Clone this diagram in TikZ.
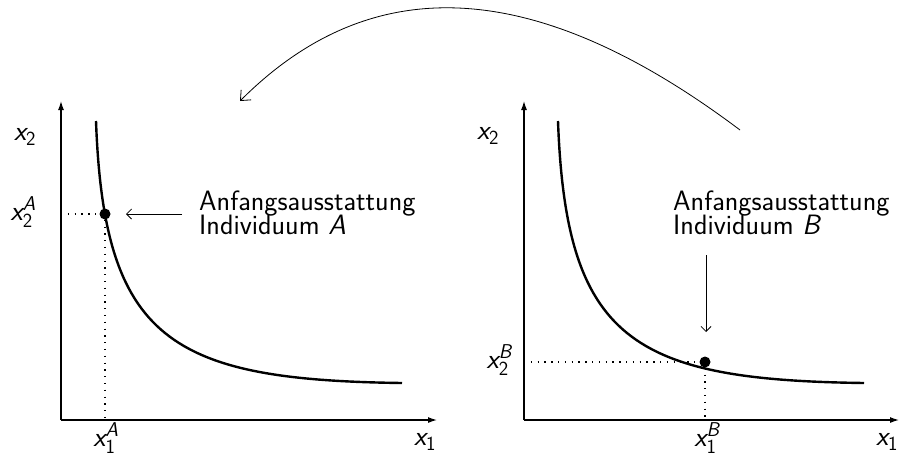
\RequirePackage{fix-cm}
\documentclass[tikz,border=0pt]{standalone}
\usepackage{fontspec}
\usepackage{amsmath}
\usetikzlibrary{arrows.meta}
\DeclareMathSizes{28}{28}{20}{14}
\newcommand\vx[2]{$\textit{x}_{\text{#1}}^{\textit{#2}}$}
\begin{document}
\begin{tikzpicture}[x=1pt,y=-1pt,
  every node/.style={font=\sffamily\fontsize{28}{24}\selectfont, inner sep=0pt},
  axis/.style={line width=1.2pt, -{Latex[length=9pt,width=6pt]}},
  icurve/.style={line width=2.4pt},
  guide/.style={line width=1.3pt, dash pattern=on 1.3pt off 5.5pt},
  pointer/.style={line width=0.8pt, -{Straight Barb[length=5pt,width=10pt]}},
  swing/.style={line width=0.8pt, -{Straight Barb[length=8pt,width=14pt]}},
  dot/.style={circle, fill=black, minimum size=11pt}]
\useasboundingbox (0,0) rectangle (900,455);
% left panel
\coordinate (oA) at (61,420);
\coordinate (yA) at (61,101);
\coordinate (xA) at (437,420);
\draw[axis] (oA) -- (yA);
\draw[axis] (oA) -- (xA);
\draw[icurve] (96,121) .. controls (104,340) and (170,380) .. (402,383);
\node[dot] (A) at (105,214) {};
\coordinate (A2) at (61,214);
\coordinate (A1) at (105,420);
\draw[guide] (A2) -- (A.west);
\draw[guide] (A.south) -- (A1);
\node (x2A) at (25,137) {$\textit{x}_{\text{2}}$};
\node[anchor=east] (x2Al) at (36,212) {\vx{2}{A}};
\node (x1Al) at (106,438) {\vx{1}{A}};
\node (x1A) at (425,442) {$\textit{x}_{\text{1}}$};
\node[anchor=base west] (tA1) at (199,210) {Anfangsausstattung};
\node[anchor=base west] (tA2) at (199,234) {Individuum \textit{A}};
\coordinate (pA) at (182,214);
\draw[pointer] (pA) -- (126,214);
% right panel
\coordinate (oB) at (524,420);
\coordinate (yB) at (524,101);
\coordinate (xB) at (899,420);
\draw[axis] (oB) -- (yB);
\draw[axis] (oB) -- (xB);
\draw[icurve] (558,121) .. controls (566,340) and (632,380) .. (864,383);
\node[dot] (B) at (705,362) {};
\coordinate (B2) at (524,362);
\coordinate (B1) at (705,420);
\draw[guide] (B2) -- (B.west);
\draw[guide] (B.south) -- (B1);
\node (x2B) at (488,136) {$\textit{x}_{\text{2}}$};
\node[anchor=east] (x2Bl) at (512,360) {\vx{2}{B}};
\node (x1Bl) at (707,438) {\vx{1}{B}};
\node (x1B) at (887,442) {$\textit{x}_{\text{1}}$};
\node[anchor=base west] (tB1) at (673,210) {Anfangsausstattung};
\node[anchor=base west] (tB2) at (673,234) {Individuum \textit{B}};
\coordinate (pB) at (706,255);
\coordinate (qB) at (706,332);
\draw[pointer] (pB) -- (qB);
% exchange arrow
\coordinate (s) at (740,130);
\coordinate (t) at (240,101);
\draw[swing] (s) .. controls (510,-43) and (354,-13) .. (t);
\end{tikzpicture}
\end{document}
